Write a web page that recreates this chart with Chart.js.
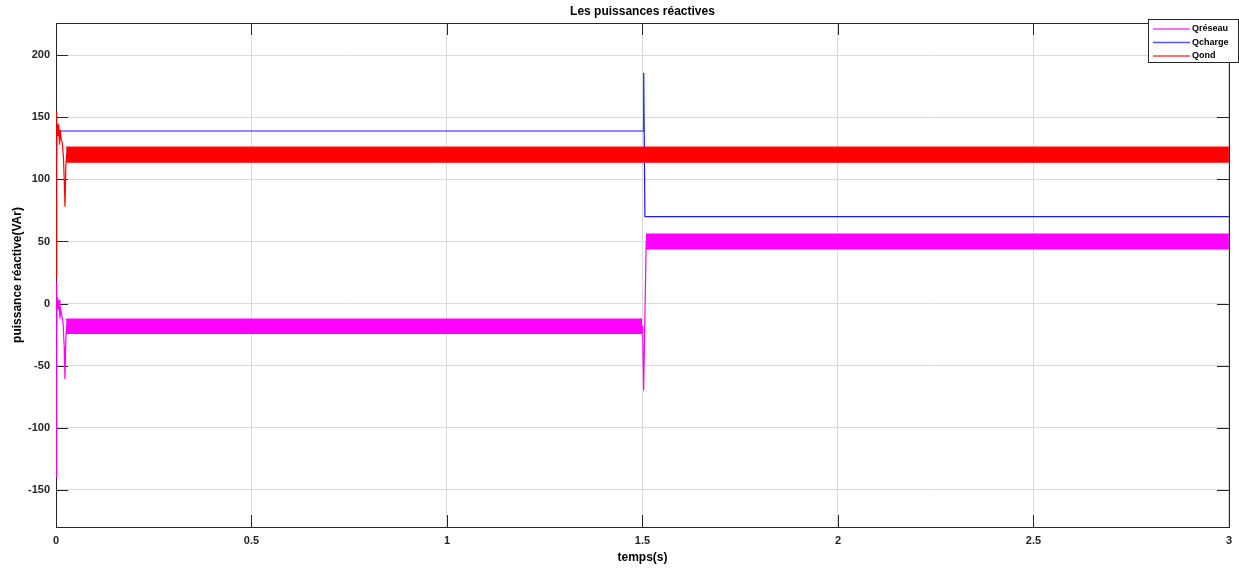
<!DOCTYPE html>
<html>
<head>
<meta charset="utf-8">
<script src="https://cdn.jsdelivr.net/npm/chart.js@4.4.1/dist/chart.umd.min.js"></script>
<style>
html,body{margin:0;padding:0;background:#fff;}
#wrap{width:1239px;height:569px;}
</style>
</head>
<body>
<div id="wrap"><canvas id="c" width="1239" height="569"></canvas></div>
<script>
// ---- Data ----
const chartTitle = 'Les puissances réactives';
const xTitle = 'temps(s)';
const yTitle = 'puissance réactive(VAr)';
const xTickValues = [0, 0.5, 1, 1.5, 2, 2.5, 3];
const xTickLabels = ['0', '0.5', '1', '1.5', '2', '2.5', '3'];
const yTickValues = [-150, -100, -50, 0, 50, 100, 150, 200];
const yTickLabels = ['-150', '-100', '-50', '0', '50', '100', '150', '200'];
const seriesNames = ['Qréseau', 'Qcharge', 'Qond'];

// Qréseau: centre trace (transients + mean level)
const qresT = [0.0012, 0.0016, 0.002, 0.003, 0.004, 0.006, 0.008, 0.010, 0.012, 0.015, 0.018, 0.021, 0.023, 0.025, 0.027, 1.499, 1.5005, 1.503, 1.5095, 3];
const qresV = [-140, 18, -27, 2, 5, -5, 3, -12, -5, -10, -15, -35, -61, -30, -18, -18, -20, -70, 50, 50];
// Qréseau noise envelope before the step
const qresBand1T = [0.026, 0.75, 1.499];
const qresBand1Hi = [-12.5, -12.5, -12.5];
const qresBand1Lo = [-24, -24, -24];
// Qréseau noise envelope after the step
const qresBand2T = [1.509, 2.25, 3.0];
const qresBand2Hi = [56, 56, 56];
const qresBand2Lo = [44, 44, 44];

// Qcharge
const qchT = [0.0012, 1.5015, 1.5028, 1.5036, 1.5062, 3];
const qchV = [139, 139, 186, 186, 70, 70];

// Qond: centre trace
const qondT = [0.0012, 0.0016, 0.002, 0.003, 0.005, 0.007, 0.009, 0.011, 0.013, 0.016, 0.019, 0.021, 0.023, 0.025, 0.027, 3];
const qondV = [20, 155, 112, 145, 135, 144, 128, 140, 132, 130, 118, 100, 78, 110, 120, 120];
// Qond noise envelope
const qondBandT = [0.026, 1.5, 3.0];
const qondBandHi = [126, 126, 126];
const qondBandLo = [114, 114, 114];

// ---- Build ----
const pts = (t, v) => t.map((x, i) => ({x: x, y: v[i]}));
const MAG = '#ff00ff', BLU = '#1a1aff', RED = '#ff0000';
const FONT = '"Liberation Sans", Arial, sans-serif';
const AX = '#262626';

function line(label, data, color, order, extra) {
  return Object.assign({label, data, borderColor: color, backgroundColor: color, borderWidth: 1.2,
    pointRadius: 0, fill: false, tension: 0, order, clip: 3, showInLegend: false}, extra || {});
}

const datasets = [
  line(seriesNames[0], pts(qresT, qresV), MAG, 3, {showInLegend: true}),
  line('r1hi', pts(qresBand1T, qresBand1Hi), MAG, 3),
  line('r1lo', pts(qresBand1T, qresBand1Lo), MAG, 3, {fill: '-1'}),
  line('r2hi', pts(qresBand2T, qresBand2Hi), MAG, 3),
  line('r2lo', pts(qresBand2T, qresBand2Lo), MAG, 3, {fill: '-1'}),
  line(seriesNames[1], pts(qchT, qchV), BLU, 2, {showInLegend: true}),
  line(seriesNames[2], pts(qondT, qondV), RED, 1, {showInLegend: true}),
  line('ohi', pts(qondBandT, qondBandHi), RED, 1),
  line('olo', pts(qondBandT, qondBandLo), RED, 1, {fill: '-1'})
];

const decor = {
  id: 'decor',
  beforeDatasetsDraw(chart) {
    const {ctx, chartArea: a, scales: {x, y}} = chart;
    ctx.save();
    ctx.strokeStyle = AX;
    ctx.lineWidth = 1;
    const TL = 12;
    ctx.beginPath();
    xTickValues.forEach(v => {
      const px = Math.round(x.getPixelForValue(v)) + 0.5;
      ctx.moveTo(px, a.bottom); ctx.lineTo(px, a.bottom - TL);
      ctx.moveTo(px, a.top); ctx.lineTo(px, a.top + TL);
    });
    yTickValues.forEach(v => {
      const py = Math.round(y.getPixelForValue(v)) + 0.5;
      ctx.moveTo(a.left, py); ctx.lineTo(a.left + TL, py);
      ctx.moveTo(a.right, py); ctx.lineTo(a.right - TL, py);
    });
    ctx.stroke();
    ctx.strokeRect(Math.round(a.left) + 0.5, Math.round(a.top) + 0.5, Math.round(a.right - a.left), Math.round(a.bottom - a.top));
    ctx.restore();
  },
  afterDraw(chart) {
    const {ctx, chartArea: a} = chart;
    ctx.save();
    ctx.fillStyle = '#000';
    ctx.font = 'bold 12px ' + FONT;
    ctx.textAlign = 'center';
    ctx.textBaseline = 'middle';
    ctx.fillText(chartTitle, (a.left + a.right) / 2, 12);
    const lx = 1148.5, ly = 19.5, lw = 90, lh = 43;
    ctx.fillStyle = '#fff';
    ctx.fillRect(lx, ly, lw, lh);
    ctx.strokeStyle = AX;
    ctx.lineWidth = 1;
    ctx.strokeRect(lx, ly, lw, lh);
    const items = chart.data.datasets.filter(d => d.showInLegend);
    ctx.font = 'bold 9px ' + FONT;
    ctx.textAlign = 'left';
    items.forEach((d, i) => {
      const yy = 29 + i * 13.5;
      ctx.strokeStyle = d.borderColor;
      ctx.globalAlpha = 0.75;
      ctx.lineWidth = 1.5;
      ctx.beginPath(); ctx.moveTo(1153, yy); ctx.lineTo(1190, yy); ctx.stroke();
      ctx.globalAlpha = 1;
      ctx.fillStyle = '#000';
      ctx.fillText(d.label, 1192, yy);
    });
    ctx.restore();
  }
};

new Chart(document.getElementById('c'), {
  type: 'line',
  data: {datasets},
  plugins: [decor],
  options: {
    responsive: false,
    animation: false,
    events: [],
    layout: {padding: {top: 23, right: 8, left: 0, bottom: 0}},
    plugins: {legend: {display: false}, title: {display: false}, tooltip: {enabled: false}},
    scales: {
      x: {
        type: 'linear', min: 0, max: 3,
        afterBuildTicks: s => { s.ticks = xTickValues.map(v => ({value: v})); },
        afterFit: s => { s.height = 42; },
        ticks: {padding: 7, color: AX, font: {family: FONT, size: 11, weight: 'bold'}, maxRotation: 0,
          callback: (v) => xTickLabels[xTickValues.indexOf(v)]},
        grid: {color: '#dadada', drawTicks: false, lineWidth: 1},
        border: {display: false},
        title: {display: true, text: xTitle, color: '#000', padding: {top: 0, bottom: 4}, font: {family: FONT, size: 12, weight: 'bold'}}
      },
      y: {
        type: 'linear', min: -180, max: 226,
        afterBuildTicks: s => { s.ticks = yTickValues.map(v => ({value: v})); },
        afterFit: s => { s.width = 56; },
        ticks: {padding: 6, color: AX, font: {family: FONT, size: 11, weight: 'bold'},
          callback: (v) => yTickLabels[yTickValues.indexOf(v)]},
        grid: {color: '#dadada', drawTicks: false, lineWidth: 1},
        border: {display: false},
        title: {display: true, text: yTitle, color: '#000', padding: {top: 10, bottom: 0}, font: {family: FONT, size: 12, weight: 'bold'}}
      }
    }
  }
});
</script>
</body>
</html>
